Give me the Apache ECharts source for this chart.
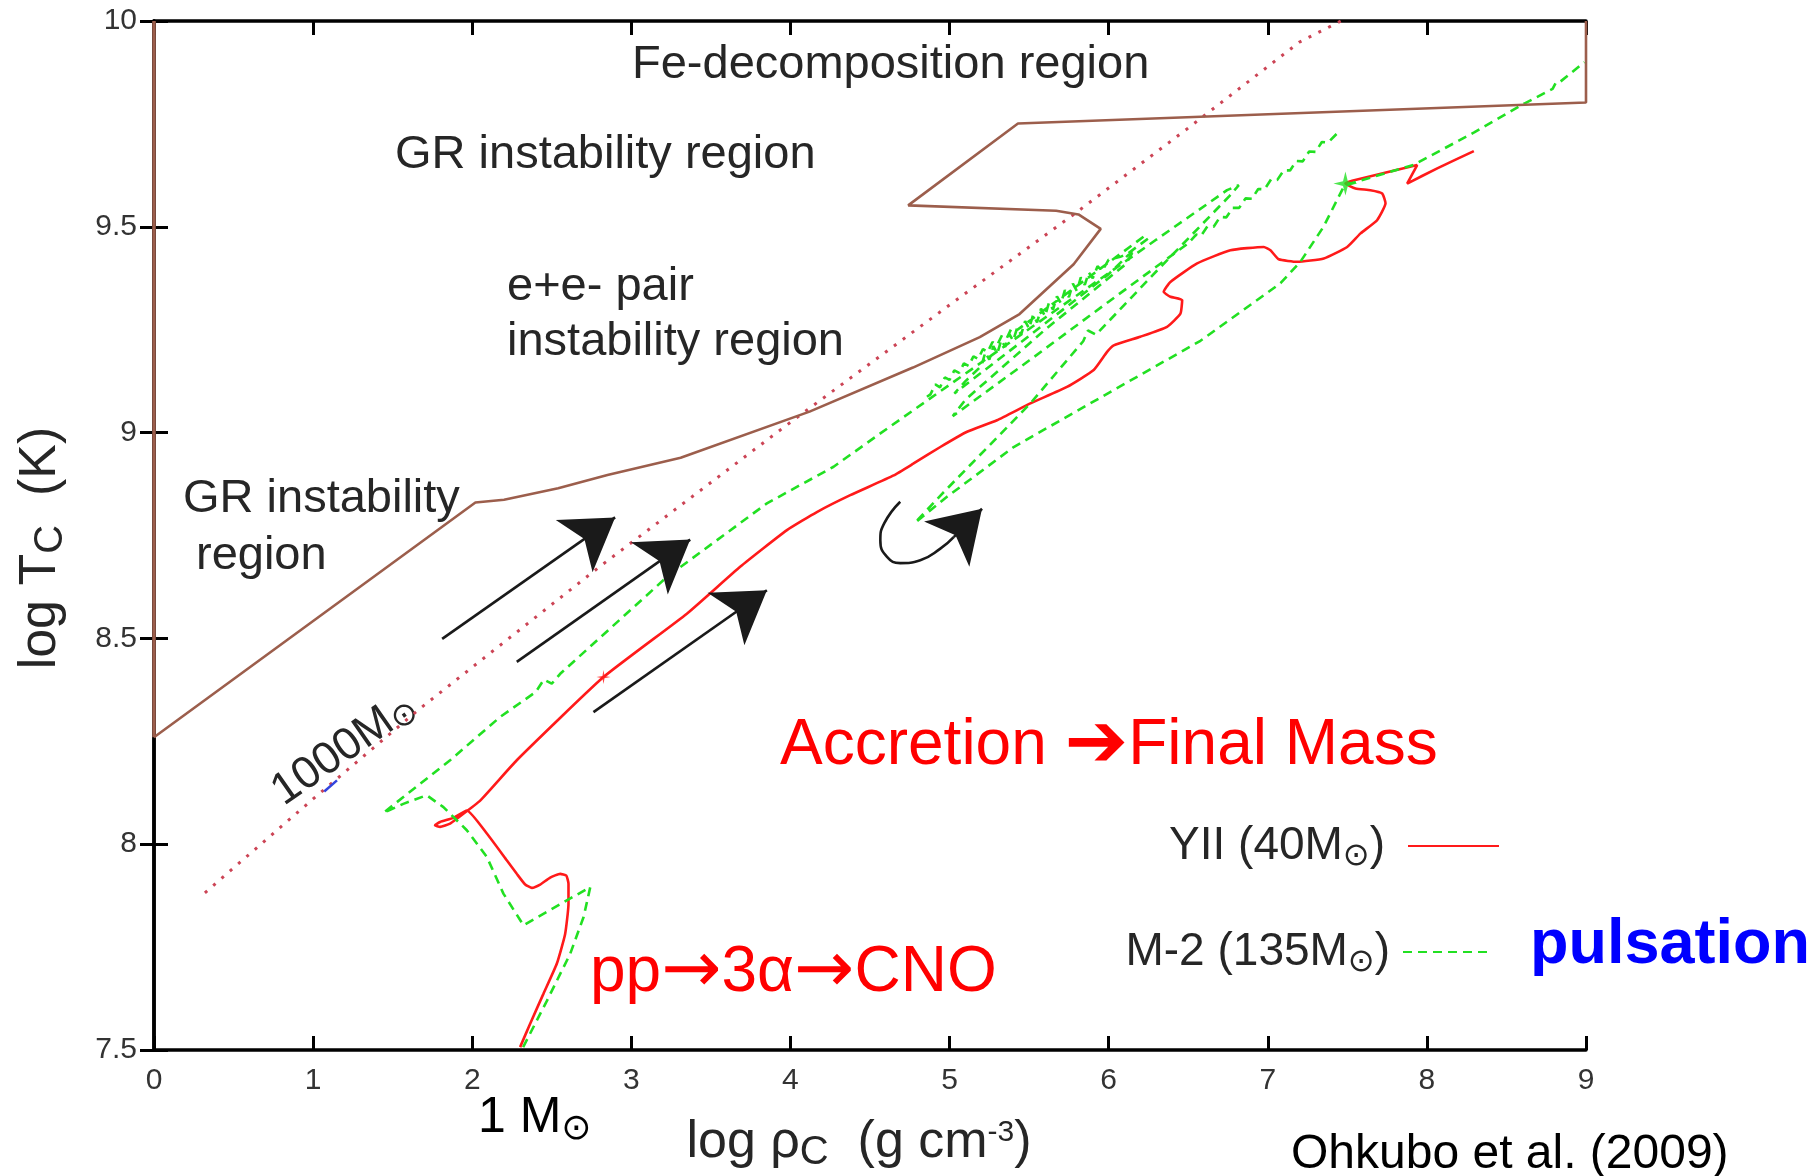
<!DOCTYPE html>
<html>
<head>
<meta charset="utf-8">
<script src="https://cdn.jsdelivr.net/npm/echarts@6/dist/echarts.min.js"></script>
<style>
  html, body { margin: 0; padding: 0; background: #ffffff; }
  #chart { width: 1820px; height: 1176px; }
</style>
</head>
<body>
<div id="chart"></div>
<script>
// log rho_c (x) vs log T_c (y) evolutionary tracks of Pop III stars

// Boundary of the GR / pair-instability / Fe-decomposition regions
const instabilityBoundary = [
  [0, 8.26], [2.02, 8.83], [2.2, 8.837], [2.54, 8.865], [2.85, 8.897], [3.31, 8.939],
  [4.12, 9.051], [4.77, 9.158], [5.19, 9.232], [5.44, 9.288], [5.78, 9.409], [5.95, 9.495],
  [5.81, 9.530], [5.67, 9.539], [4.74, 9.552], [5.43, 9.751], [9.0, 9.802], [9.0, 10.0]
];
const leftEdge = [[0, 10.0], [0, 8.26]];

// 1000 Msun track (dotted)
const track1000 = [
  [0.32, 7.882], [1.0, 8.11], [1.66, 8.326], [2.80, 8.674], [4.01, 9.028],
  [5.0, 9.31], [5.78, 9.53], [6.5, 9.74], [7.2, 9.949], [7.46, 10.0]
];
const track1000Mark = [[1.07, 8.128], [1.15, 8.155]];

// YII, 40 Msun (solid red)
const trackYII = [
  [2.301, 7.507], [2.364, 7.564], [2.448, 7.637], [2.532, 7.710], [2.584, 7.782], [2.605, 7.855],
  [2.605, 7.904], [2.591, 7.924], [2.553, 7.928], [2.490, 7.919], [2.427, 7.902], [2.375, 7.894],
  [2.333, 7.902], [2.280, 7.928], [2.217, 7.961], [2.092, 8.026], [1.966, 8.082],
  [1.882, 8.064], [1.798, 8.054], [1.766, 8.046], [1.798, 8.042], [1.861, 8.05], [1.903, 8.062],
  [2.05, 8.106], [2.28, 8.204], [2.825, 8.406], [3.349, 8.560], [3.684, 8.674], [3.978, 8.763],
  [4.166, 8.807], [4.376, 8.848], [4.649, 8.896], [4.774, 8.925], [4.942, 8.965], [5.11, 9.002],
  [5.298, 9.030], [5.508, 9.071], [5.738, 9.111], [5.906, 9.152], [5.99, 9.196], [6.032, 9.212],
  [6.199, 9.233], [6.367, 9.257], [6.451, 9.289], [6.462, 9.322], [6.388, 9.330], [6.346, 9.342],
  [6.388, 9.366], [6.556, 9.411], [6.765, 9.443], [6.975, 9.451], [7.017, 9.443], [7.069, 9.421],
  [7.185, 9.415], [7.352, 9.423], [7.499, 9.451], [7.583, 9.484], [7.687, 9.516], [7.74, 9.557],
  [7.719, 9.581], [7.645, 9.589], [7.551, 9.593], [7.488, 9.605], [7.53, 9.612], [7.939, 9.650],
  [7.876, 9.605], [8.065, 9.642], [8.295, 9.684]
];

// M-2, 135 Msun (dashed green): main path
const trackM2 = [
  [2.32, 7.507], [2.47, 7.62], [2.616, 7.734], [2.70, 7.823], [2.742, 7.896], [2.322, 7.803],
  [2.196, 7.88], [2.092, 7.969], [1.966, 8.034], [1.819, 8.09], [1.714, 8.119], [1.567, 8.098],
  [1.442, 8.076], [1.526, 8.102], [1.861, 8.204], [2.175, 8.309], [2.40, 8.37], [2.45, 8.40],
  [2.50, 8.39], [2.553, 8.414], [3.223, 8.649], [3.852, 8.828], [4.271, 8.917], [4.565, 8.998],
  [5.6, 9.279], [6.3, 9.469], [6.744, 9.589], [6.818, 9.601], [6.76, 9.575], [6.3, 9.392],
  [5.92, 9.238], [5.87, 9.248], [5.84, 9.222], [5.508, 9.071], [4.95, 8.85], [4.783, 8.781],
  [4.984, 8.844], [5.403, 8.965], [6.03, 9.103], [6.577, 9.223], [7.08, 9.363],
  [7.205, 9.415], [7.35, 9.50], [7.477, 9.597], [7.52, 9.605], [7.92, 9.651], [8.3, 9.73],
  [8.615, 9.80], [8.79, 9.835], [8.81, 9.85], [8.83, 9.85], [8.99, 9.90]
];
// M-2: pulsation cycles
const trackM2Pulses = [
  [4.858, 9.087], [4.88, 9.093], [4.91, 9.117], [4.94, 9.110], [4.97, 9.134], [5.00, 9.128],
  [5.03, 9.151], [5.06, 9.145], [5.09, 9.168], [5.12, 9.162], [5.15, 9.185], [5.18, 9.179],
  [5.21, 9.203], [5.24, 9.196], [5.27, 9.220], [5.30, 9.213], [5.33, 9.237], [5.36, 9.230],
  [5.39, 9.254], [5.42, 9.248], [5.8, 9.356], [6.22, 9.476], [6.25, 9.472], [6.12, 9.435],
  [6.073, 9.427], [6.00, 9.42], [5.96, 9.393], [5.93, 9.404], [5.90, 9.375], [5.875, 9.389],
  [5.85, 9.359], [5.825, 9.377], [5.80, 9.344], [5.775, 9.362], [5.75, 9.329], [5.725, 9.346],
  [5.70, 9.314], [5.675, 9.331], [5.65, 9.299], [5.625, 9.316], [5.60, 9.283], [5.575, 9.301],
  [5.55, 9.268], [5.525, 9.286], [5.50, 9.253], [5.475, 9.271], [5.45, 9.238], [5.425, 9.255],
  [5.40, 9.223], [5.375, 9.240], [5.35, 9.208], [5.325, 9.225], [5.30, 9.192], [5.275, 9.210],
  [5.25, 9.177], [5.225, 9.195], [5.20, 9.162], [5.10, 9.125], [5.03, 9.095], [5.5, 9.235],
  [6.0, 9.385], [6.16, 9.445], [6.11, 9.41], [5.6, 9.25], [5.1, 9.08], [5.02, 9.04],
  [5.5, 9.175], [6.0, 9.318], [6.5, 9.46], [6.55, 9.481], [6.58, 9.478], [6.62, 9.501],
  [6.66, 9.500], [6.70, 9.524], [6.74, 9.523], [6.78, 9.546], [6.82, 9.546], [6.86, 9.569],
  [6.90, 9.568], [6.94, 9.592], [6.98, 9.591], [7.02, 9.615], [7.06, 9.614], [7.10, 9.637],
  [7.14, 9.637], [7.18, 9.660], [7.22, 9.659], [7.26, 9.683], [7.30, 9.682], [7.34, 9.706],
  [7.38, 9.705], [7.436, 9.727]
];

// Markers on the tracks
const yiiMark = [[2.825, 8.406]];
const m2Mark = [[7.488, 9.605]];

// Direction arrows: [tail, head]
const arrowSegments = [
  [[1.811, 8.499], [2.898, 8.794]],
  [[2.28, 8.443], [3.37, 8.74]],
  [[2.762, 8.321], [3.852, 8.617]],
  [[5.026, 8.746], [5.204, 8.815]]
];
// Bounce curve before the last arrow
const bounceCurve = [
  [4.69, 8.832], [4.59, 8.78], [4.565, 8.738], [4.607, 8.698], [4.69, 8.683],
  [4.816, 8.69], [4.942, 8.718], [5.026, 8.746]
];

const xRange = { min: 0, max: 9, step: 1 };
const yRange = { min: 7.5, max: 10, step: 0.5 };

const FONT = '"Liberation Sans", "DejaVu Sans", Arial, sans-serif';
const GREY = '#262626';
const GREEN = '#22e022';
const RED = '#ff1a1a';
const M2_NAME = 'M-2 (135M⊙)';
const YII_NAME = 'YII (40M⊙)';

const chart = echarts.init(document.getElementById('chart'), null, { renderer: 'canvas' });

const axisCommon = {
  axisLine: { show: true, lineStyle: { color: '#000', width: 3.5 } },
  axisTick: { show: true, inside: true, length: 14, lineStyle: { color: '#000', width: 3 } },
  splitLine: { show: false }
};

const sunRich = {
  s: { fontSize: 32, fontFamily: FONT, color: GREY, padding: [20, 0, 0, 0] }
};

const legendCommon = {
  orient: 'vertical', align: 'right', padding: 0, itemHeight: 14,
  itemStyle: { opacity: 0 },
  formatter: n => n.replace('⊙', '{s|⊙}'),
  selectedMode: false
};

const m2Style = { color: GREEN, width: 2.6, type: [9, 6] };

const option = {
  animation: false,
  backgroundColor: '#ffffff',
  grid: { left: 154, top: 21, width: 1432, height: 1029, containLabel: false },
  xAxis: [
    Object.assign({
      type: 'value', position: 'bottom', min: xRange.min, max: xRange.max, interval: xRange.step,
      axisLabel: { show: true, fontSize: 30, fontFamily: FONT, color: '#333', margin: 16 }
    }, axisCommon),
    Object.assign({
      type: 'value', position: 'top', min: xRange.min, max: xRange.max, interval: xRange.step,
      axisLabel: { show: false }
    }, axisCommon)
  ],
  yAxis: [
    Object.assign({
      type: 'value', position: 'left', min: yRange.min, max: yRange.max, interval: yRange.step,
      axisLabel: { show: true, fontSize: 30, fontFamily: FONT, color: '#333', margin: 17 }
    }, axisCommon),
    Object.assign({
      type: 'value', position: 'right', min: yRange.min, max: yRange.max, interval: yRange.step,
      axisLabel: { show: false }
    }, axisCommon)
  ],
  legend: [
    Object.assign({
      data: [YII_NAME], right: 320, top: 823, itemWidth: 91,
      textStyle: { fontSize: 46, fontFamily: FONT, color: GREY, padding: [0, 18, 0, 0], rich: sunRich }
    }, legendCommon),
    Object.assign({
      data: [M2_NAME], right: 327, top: 929, itemWidth: 89,
      textStyle: { fontSize: 46, fontFamily: FONT, color: GREY, padding: [0, 8, 0, 0], rich: sunRich }
    }, legendCommon)
  ],
  series: [
    {
      name: 'boundary', type: 'line', data: instabilityBoundary, showSymbol: false, symbol: 'none',
      clip: false, z: 5, silent: true, lineStyle: { color: '#9c5e4c', width: 2.6 }
    },
    {
      name: 'boundaryEdge', type: 'line', data: leftEdge, showSymbol: false, symbol: 'none',
      clip: false, z: 5, silent: true, lineStyle: { color: '#9c5e4c', width: 3.5 }
    },
    {
      name: '1000M', type: 'line', data: track1000, showSymbol: false, symbol: 'none', z: 3,
      lineStyle: { color: '#cc4455', width: 3, type: [3, 8] }
    },
    {
      name: '1000Mmark', type: 'line', data: track1000Mark, showSymbol: false, symbol: 'none', z: 3,
      lineStyle: { color: '#3344dd', width: 2.5 }
    },
    {
      name: YII_NAME, type: 'line', data: trackYII, showSymbol: false, symbol: 'none', z: 4, smooth: 0.15,
      lineStyle: { color: RED, width: 2.6 }, itemStyle: { color: RED }
    },
    {
      name: M2_NAME, type: 'line', data: trackM2, showSymbol: false, symbol: 'none', z: 4,
      lineStyle: m2Style, itemStyle: { color: GREEN }
    },
    {
      name: M2_NAME, type: 'line', data: trackM2Pulses, showSymbol: false, symbol: 'none', z: 4,
      lineStyle: m2Style, itemStyle: { color: GREEN }
    },
    {
      name: 'yiiMark', type: 'scatter', data: yiiMark,
      symbol: 'path://M0,-1L0.15,-0.15L1,0L0.15,0.15L0,1L-0.15,0.15L-1,0L-0.15,-0.15Z',
      symbolSize: 14, itemStyle: { color: RED }, z: 6
    },
    {
      name: 'm2Mark', type: 'scatter', data: m2Mark,
      symbol: 'path://M0,-1L0.2,-0.2L1,0L0.2,0.2L0,1L-0.2,0.2L-1,0L-0.2,-0.2Z',
      symbolSize: 24, itemStyle: { color: GREEN }, z: 6
    },
    {
      name: 'bounce', type: 'line', data: bounceCurve, smooth: 0.5, showSymbol: false, symbol: 'none', z: 6,
      lineStyle: { color: '#1a1a1a', width: 2.6 }
    },
    {
      name: 'arrows', type: 'line', data: [], z: 6,
      markLine: {
        silent: true, animation: false,
        symbol: ['none', 'arrow'], symbolSize: [48, 50],
        label: { show: false },
        lineStyle: { color: '#1a1a1a', width: 2.6, type: 'solid' },
        data: arrowSegments.map(s => [{ coord: s[0] }, { coord: s[1] }])
      }
    }
  ],
  graphic: [
    { type: 'text', x: 632, y: 65, style: { text: 'Fe-decomposition region', font: '47px ' + FONT, fill: GREY, verticalAlign: 'middle' } },
    { type: 'text', x: 395, y: 155, style: { text: 'GR instability region', font: '47px ' + FONT, fill: GREY, verticalAlign: 'middle' } },
    { type: 'text', x: 507, y: 287, style: { text: 'e+e- pair', font: '47px ' + FONT, fill: GREY, verticalAlign: 'middle' } },
    { type: 'text', x: 507, y: 342, style: { text: 'instability region', font: '47px ' + FONT, fill: GREY, verticalAlign: 'middle' } },
    { type: 'text', x: 183, y: 499, style: { text: 'GR instability', font: '47px ' + FONT, fill: GREY, verticalAlign: 'middle' } },
    { type: 'text', x: 196, y: 556, style: { text: 'region', font: '47px ' + FONT, fill: GREY, verticalAlign: 'middle' } },
    {
      type: 'text', x: 344, y: 749, rotation: 0.61,
      style: {
        text: '1000M{s|⊙}', font: '45px ' + FONT, fill: GREY, align: 'center', verticalAlign: 'middle',
        rich: { s: { fontSize: 32, fontFamily: FONT, fill: GREY, padding: [16, 0, 0, 0] } }
      }
    },
    {
      type: 'text', x: 780, y: 746,
      style: {
        text: '{t|Accretion }{a|➔}{t|Final Mass}', fill: '#ff0000', verticalAlign: 'middle',
        rich: {
          t: { fontSize: 64, fontFamily: FONT, fill: '#ff0000' },
          a: { fontSize: 76, fontFamily: '"DejaVu Sans", sans-serif', fill: '#ff0000' }
        }
      }
    },
    {
      type: 'text', x: 590, y: 973,
      style: {
        text: '{t|pp}{a|→}{t|3α}{a|→}{t|CNO}', fill: '#ff0000', verticalAlign: 'middle',
        rich: {
          t: { fontSize: 64, fontFamily: FONT, fill: '#ff0000' },
          a: { fontSize: 72, fontFamily: '"DejaVu Sans", sans-serif', fill: '#ff0000' }
        }
      }
    },
    { type: 'text', x: 1530, y: 946, style: { text: 'pulsation', font: 'bold 63px ' + FONT, fill: '#0000ff', verticalAlign: 'middle' } },
    {
      type: 'text', x: 478, y: 1118,
      style: {
        text: '1 M{s|⊙}', font: '50px ' + FONT, fill: '#000', verticalAlign: 'middle',
        rich: { s: { fontSize: 36, fontFamily: FONT, fill: '#000', padding: [22, 0, 0, 0] } }
      }
    },
    { type: 'text', x: 1291, y: 1155, style: { text: 'Ohkubo et al. (2009)', font: '48px ' + FONT, fill: '#000', verticalAlign: 'middle' } },
    {
      type: 'text', x: 859, y: 1143,
      style: {
        text: 'log ρ{c|C}  (g cm{p|-3})', font: '52px ' + FONT, fill: GREY, align: 'center', verticalAlign: 'middle',
        rich: {
          c: { fontSize: 40, fontFamily: FONT, fill: GREY, padding: [20, 0, 0, 0] },
          p: { fontSize: 30, fontFamily: FONT, fill: GREY, padding: [0, 0, 20, 0] }
        }
      }
    },
    {
      type: 'text', x: 41, y: 548, rotation: Math.PI / 2,
      style: {
        text: 'log T{c|C}  (K)', font: '52px ' + FONT, fill: GREY, align: 'center', verticalAlign: 'middle',
        rich: { c: { fontSize: 40, fontFamily: FONT, fill: GREY, padding: [20, 0, 0, 0] } }
      }
    }
  ]
};

chart.setOption(option);
</script>
</body>
</html>
